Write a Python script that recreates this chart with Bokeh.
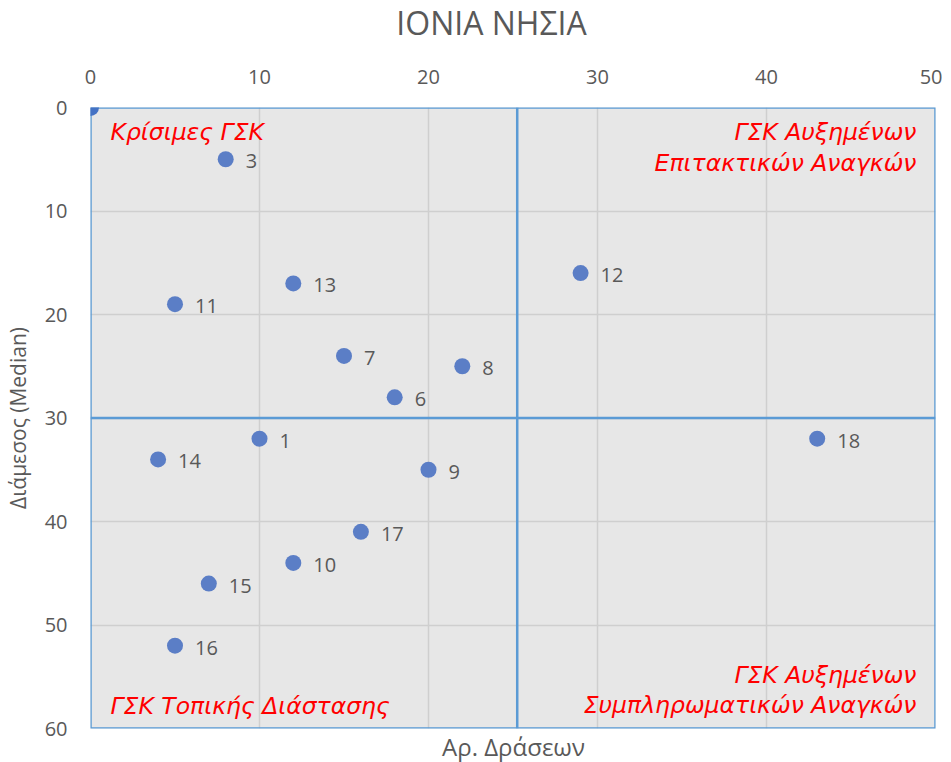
from bokeh.plotting import figure
from bokeh.models import Range1d, ColumnDataSource, FixedTicker, Div
from bokeh.layouts import column
from bokeh.core.properties import value
from bokeh.embed import file_html
from bokeh.resources import INLINE

# Data
labels = ["3", "13", "11", "7", "8", "6", "1", "14", "9", "17", "10", "15", "16", "12", "18"]
actions = [8, 12, 5, 15, 22, 18, 10, 4, 20, 16, 12, 7, 5, 29, 43]
median = [5, 17, 19, 24, 25, 28, 32, 34, 35, 41, 44, 46, 52, 16, 32]
origin_x = [0]
origin_y = [0]
split_x = 25.25
split_y = 30
x_max = 50
y_max = 60
x_ticks = [0, 10, 20, 30, 40, 50]
y_ticks = [0, 10, 20, 30, 40, 50, 60]
title_text = "ΙΟΝΙΑ ΝΗΣΙΑ"
x_label = "Αρ. Δράσεων"
y_label = "Διάμεσος (Median)"

TICK_FONT = "Open Sans"
GREY = "#595959"

title_div = Div(text=f'<div style="width:935px;text-align:center;position:relative;left:24px;'
                     f'font-family:\'Open Sans\';font-size:32px;line-height:46px;color:{GREY};'
                     f'white-space:nowrap;">{title_text}</div>',
                width=935, height=46, margin=0)

p = figure(frame_width=845, frame_height=621, output_backend="svg", toolbar_location=None,
           x_range=Range1d(0, x_max), y_range=Range1d(y_max, 0),
           x_axis_location="above", y_axis_location="left",
           min_border_left=83, min_border_right=7, min_border_top=61, min_border_bottom=14,
           background_fill_color="#E7E7E7", border_fill_color="white", outline_line_color=None,
           margin=0)

xlabel_div = Div(text=f'<div style="width:935px;text-align:center;position:relative;left:46px;top:-8px;'
                      f'font-family:\'Open Sans\';font-size:24px;line-height:26px;color:{GREY};'
                      f'white-space:nowrap;">{x_label}</div>',
                 width=935, height=18, margin=0)

for ax in (p.xaxis[0], p.yaxis[0]):
    ax.axis_line_color = None
    ax.major_tick_line_color = None
    ax.minor_tick_line_color = None
    ax.major_label_text_font = TICK_FONT
    ax.major_label_text_font_size = "20px"
    ax.major_label_text_color = GREY
p.xaxis.major_label_standoff = 18
p.yaxis.major_label_standoff = 17
p.xaxis.ticker = FixedTicker(ticks=x_ticks)
p.yaxis.ticker = FixedTicker(ticks=y_ticks)
p.yaxis.axis_label = y_label
p.yaxis.axis_label_text_font = TICK_FONT
p.yaxis.axis_label_text_font_size = "21px"
p.yaxis.axis_label_text_font_style = "normal"
p.yaxis.axis_label_text_color = GREY
p.yaxis.axis_label_standoff = 10

p.grid.grid_line_color = "#CFCFCF"
p.grid.grid_line_width = 1.5

# quadrant lines / border
line_col = "#5B9BD5"
p.line([0, x_max, x_max, 0, 0], [0, 0, y_max, y_max, 0], line_color=line_col, line_width=2.5)
p.line([split_x, split_x], [0, y_max], line_color=line_col, line_width=2.5)
p.line([0, x_max], [split_y, split_y], line_color=line_col, line_width=2.5)

src = ColumnDataSource(dict(x=actions, y=median, lab=labels))
p.scatter("x", "y", source=src, size=16, fill_color="#5B7EC6", line_color=None)
p.text("x", "y", text="lab", source=src, x_offset=20, y_offset=2,
       text_font=value(TICK_FONT), text_font_size="20px", text_color=GREY,
       text_baseline="middle", text_align="left")
p.scatter(origin_x, origin_y, size=17, fill_color="#4472C4", line_color=None)

RED_FONT = value("DejaVu Sans")
red_kw = dict(text_font=RED_FONT, text_font_size="23.5px", text_font_style="italic",
              text_color="#FF0000", text_baseline="middle")
p.text([0], [0], text=["Κρίσιμες ΓΣΚ"], x_offset=20, y_offset=24, text_align="left", **red_kw)
p.text([x_max, x_max], [0, 0], text=["ΓΣΚ Αυξημένων", "Επιτακτικών Αναγκών"],
       x_offset=[-19, -19], y_offset=[24, 55], text_align="right", **red_kw)
p.text([0], [y_max], text=["ΓΣΚ Τοπικής Διάστασης"], x_offset=20, y_offset=-23,
       text_align="left", **red_kw)
p.text([x_max, x_max], [y_max, y_max], text=["ΓΣΚ Αυξημένων", "Συμπληρωματικών Αναγκών"],
       x_offset=[-19, -19], y_offset=[-54, -24], text_align="right", **red_kw)

layout = column(title_div, p, xlabel_div, spacing=0)
open("out.html", "w").write(file_html(layout, INLINE))
